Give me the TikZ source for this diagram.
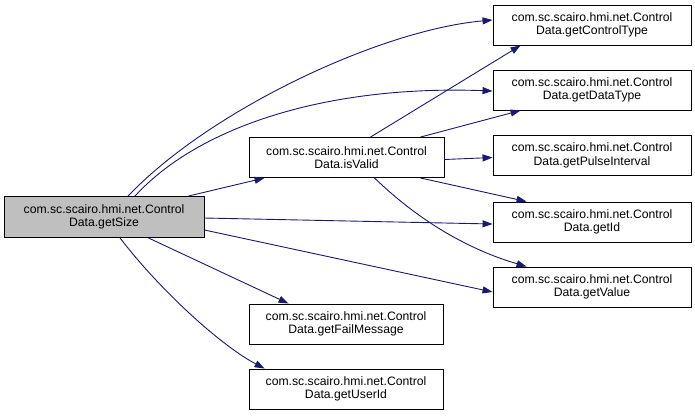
\documentclass[tikz,border=0pt]{standalone}
\usepackage{fontspec}
\setmainfont{Liberation Sans}
\usetikzlibrary{arrows.meta}
\definecolor{edgeblue}{HTML}{191970}
\definecolor{boxgray}{HTML}{BFBFBF}
\begin{document}
\begin{tikzpicture}[x=1pt,y=-1pt,
  fn/.style={draw=black, line width=0.9pt, fill=white, minimum width=197pt, minimum height=40pt,
    inner sep=0pt, align=center, font=\fontsize{12.2}{13.4}\selectfont},
  cur/.style={fn, fill=boxgray, minimum width=200pt, minimum height=41pt},
  call/.style={draw=edgeblue, line width=0.9pt, -{Triangle[length=10pt,width=7pt]}}]
\useasboundingbox (0,0) rectangle (695,416);
\node[cur] (gs) at (104,217) {com.sc.scairo.hmi.net.Control\\Data.getSize};
\node[fn, minimum width=195pt] (iv) at (346.5,157.5) {com.sc.scairo.hmi.net.Control\\Data.isValid};
\node[fn, minimum width=198pt] (ct) at (592,25) {com.sc.scairo.hmi.net.Control\\Data.getControlType};
\node[fn, minimum width=198pt] (dt) at (592,90) {com.sc.scairo.hmi.net.Control\\Data.getDataType};
\node[fn, minimum width=198pt] (pi) at (592,155.5) {com.sc.scairo.hmi.net.Control\\Data.getPulseInterval};
\node[fn, minimum width=198pt] (id) at (592,222) {com.sc.scairo.hmi.net.Control\\Data.getId};
\node[fn, minimum width=198pt] (va) at (592,287) {com.sc.scairo.hmi.net.Control\\Data.getValue};
\node[fn, minimum width=194pt] (fm) at (346,324) {com.sc.scairo.hmi.net.Control\\Data.getFailMessage};
\node[fn, minimum width=194pt] (ui) at (346,389) {com.sc.scairo.hmi.net.Control\\Data.getUserId};
% edges from getSize
\draw[call] ([xshift=24pt]gs.north) .. controls (210,110) and (380,30) .. ([yshift=5pt]ct.west);
\draw[call] ([xshift=31pt]gs.north) .. controls (200,125) and (330,85) .. ([yshift=-1pt]dt.west);
\draw[call] ([xshift=-16pt]gs.north east) -- ([xshift=16pt]iv.south west);
\draw[call] ([yshift=-1pt]gs.east) -- ([yshift=-2pt]id.west);
\draw[call] ([yshift=-13pt]gs.east) -- ([yshift=-5pt]va.west);
\draw[call] ([xshift=-56pt]gs.south east) -- ([xshift=40pt]fm.north west);
\draw[call] ([xshift=16pt]gs.south) .. controls (160,290) and (220,345) .. ([xshift=16pt]ui.north west);
% edges from isValid
\draw[call] ([xshift=24pt]iv.north) -- ([xshift=28pt]ct.south west);
\draw[call] ([xshift=-24pt]iv.north east) -- ([xshift=28pt]dt.south west);
\draw[call] ([yshift=-2pt]iv.east) -- ([yshift=-2pt]pi.west);
\draw[call] ([xshift=-24pt]iv.south east) -- ([xshift=34pt]id.north west);
\draw[call] ([xshift=28pt]iv.south) .. controls (420,222) and (470,250) .. ([xshift=34pt]va.north west);
\end{tikzpicture}
\end{document}
